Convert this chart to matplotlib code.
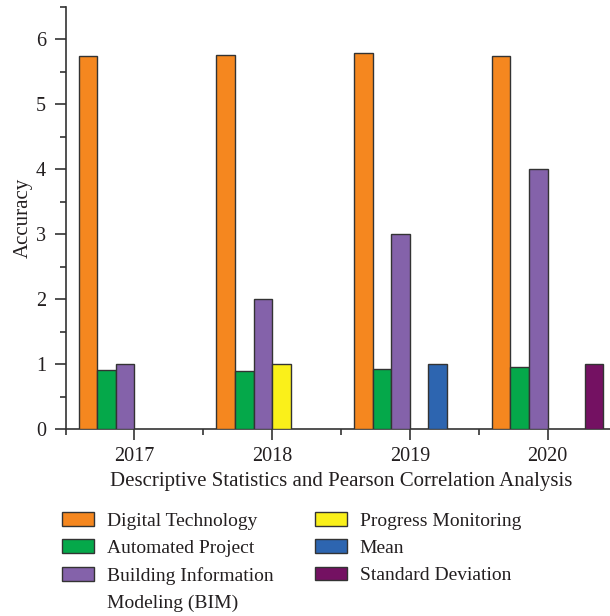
import matplotlib
matplotlib.use("Agg")
import matplotlib.pyplot as plt
from matplotlib.patches import Patch
from matplotlib.ticker import MultipleLocator, FixedLocator
import numpy as np

plt.rcParams['font.family'] = ['Liberation Serif', 'DejaVu Serif']

years = ["2017", "2018", "2019", "2020"]
series_names = [
    "Digital Technology",
    "Automated Project",
    "Building Information Modeling (BIM)",
    "Progress Monitoring",
    "Mean",
    "Standard Deviation",
]
digital_technology = [5.74, 5.76, 5.79, 5.74]
automated_project = [0.91, 0.89, 0.93, 0.96]
bim = [1.0, 2.0, 3.0, 4.0]
progress_monitoring = [0.0, 1.0, 0.0, 0.0]
mean_vals = [0.0, 0.0, 1.0, 0.0]
std_dev = [0.0, 0.0, 0.0, 1.0]

series = [digital_technology, automated_project, bim,
          progress_monitoring, mean_vals, std_dev]
colors = ["#F5871F", "#05A84A", "#8462AA", "#FAF01A", "#2D65B0", "#741162"]
edge = "#333333"
txt = "#231F20"

fig = plt.figure(figsize=(6.10, 6.16), dpi=100)
ax = fig.add_axes([65.5 / 610, 187 / 616, 551 / 610, 422 / 616])

x = np.arange(len(years))
w = 0.135
for i, (vals, col) in enumerate(zip(series, colors)):
    offs = (i - 2.5) * w
    xs = [xi + offs for xi, v in zip(x, vals) if v > 0]
    vs = [v for v in vals if v > 0]
    ax.bar(xs, vs, width=w, color=col, edgecolor=edge, linewidth=1.0, zorder=3)

ax.set_xlim(-0.5, 3.5)
ax.set_ylim(0, 6.5)
ax.set_xticks(x)
ax.set_xticklabels(years)
ax.xaxis.set_minor_locator(FixedLocator([-0.5, 0.5, 1.5, 2.5, 3.5]))
ax.yaxis.set_major_locator(MultipleLocator(1))
ax.yaxis.set_minor_locator(MultipleLocator(0.5))

for s in ["top", "right"]:
    ax.spines[s].set_visible(False)
for s in ["left", "bottom"]:
    ax.spines[s].set_color(edge)
    ax.spines[s].set_linewidth(1.2)

ax.tick_params(axis="both", which="major", direction="out", length=8,
               width=1.2, color=edge, labelsize=14.5, labelcolor=txt)
ax.tick_params(axis="both", which="minor", direction="out", length=4,
               width=1.2, color=edge)
ax.tick_params(axis="x", which="major", pad=5)
ax.tick_params(axis="y", which="major", pad=6)

ax.set_ylabel("Accuracy", fontsize=15, color=txt, labelpad=2.5)
ax.set_xlabel("Descriptive Statistics and Pearson Correlation Analysis",
              fontsize=15, color=txt, labelpad=4)

# Legend: the long BIM label is split over two rows, the second with an empty handle
handles = [
    Patch(facecolor=colors[0], edgecolor=edge, linewidth=1.0),
    Patch(facecolor=colors[1], edgecolor=edge, linewidth=1.0),
    Patch(facecolor=colors[2], edgecolor=edge, linewidth=1.0),
    Patch(facecolor="none", edgecolor="none"),
    Patch(facecolor=colors[3], edgecolor=edge, linewidth=1.0),
    Patch(facecolor=colors[4], edgecolor=edge, linewidth=1.0),
    Patch(facecolor=colors[5], edgecolor=edge, linewidth=1.0),
]
labels = [series_names[0], series_names[1], "Building Information",
          "Modeling (BIM)", series_names[3], series_names[4], series_names[5]]
leg = fig.legend(handles, labels, ncol=2, loc="upper left",
                 bbox_to_anchor=(62 / 610, 1 - 512 / 616),
                 frameon=False, fontsize=14, handlelength=1.65,
                 handleheight=0.7, handletextpad=0.65, columnspacing=2.15,
                 labelspacing=0.5, borderaxespad=0, borderpad=0)
for t in leg.get_texts():
    t.set_color(txt)

fig.savefig("out.png", dpi=100)
